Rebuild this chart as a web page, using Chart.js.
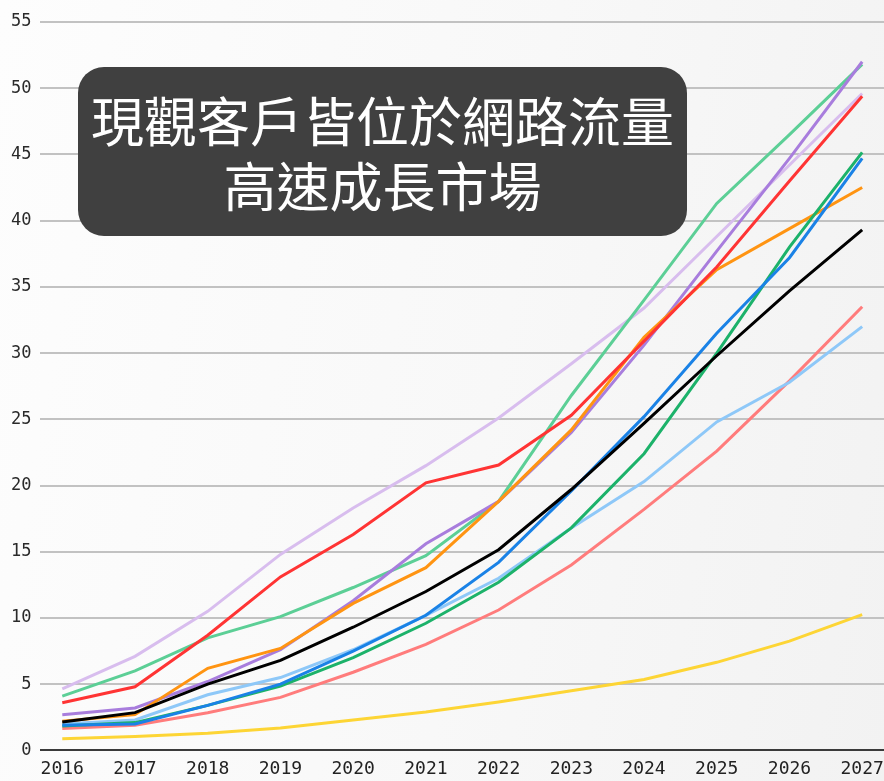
<!DOCTYPE html>
<html>
<head>
<meta charset="utf-8">
<script src="https://cdn.jsdelivr.net/npm/chart.js@4"></script>
<style>
  html, body { margin: 0; padding: 0; }
  body {
    width: 884px;
    height: 781px;
    overflow: hidden;
    background: linear-gradient(100deg, #fdfdfd 0%, #f8f8f8 55%, #f2f2f2 100%);
  }
  .wrap { position: relative; width: 884px; height: 781px; }
  canvas { position: absolute; left: 0; top: 0; }
  .banner {
    position: absolute;
    left: 78px;
    top: 67px;
    width: 609px;
    height: 169px;
    border-radius: 26px;
    background: #404040;
    color: #fff;
    font-family: "Noto Sans CJK TC", "Noto Sans CJK SC", sans-serif;
    font-size: 53px;
    line-height: 65px;
    text-align: center;
    display: flex;
    flex-direction: column;
    justify-content: center;
  }
</style>
</head>
<body>
<div class="wrap">
  <canvas id="chart" width="884" height="781"></canvas>
  <div class="banner"><div>現觀客戶皆位於網路流量</div><div>高速成長市場</div></div>
</div>
<script>
  const years = [2016, 2017, 2018, 2019, 2020, 2021, 2022, 2023, 2024, 2025, 2026, 2027];
  const yTicks = [0, 5, 10, 15, 20, 25, 30, 35, 40, 45, 50, 55];

  const blackSeries    = [2.15, 2.85, 5.0, 6.8, 9.3, 12.0, 15.15, 19.7, 24.7, 29.8, 34.7, 39.3];
  const lavenderSeries = [4.65, 7.1, 10.5, 14.8, 18.3, 21.5, 25.1, 29.2, 33.4, 38.8, 44.2, 49.6];
  const mintSeries     = [4.1, 6.0, 8.5, 10.1, 12.3, 14.7, 18.8, 26.8, 34.0, 41.3, 46.5, 51.8];
  const redSeries      = [3.6, 4.8, 8.7, 13.1, 16.3, 20.2, 21.55, 25.3, 30.9, 36.5, 43.0, 49.4];
  const purpleSeries   = [2.7, 3.2, 5.2, 7.6, 11.3, 15.6, 18.8, 24.0, 30.6, 37.7, 44.7, 52.0];
  const orangeSeries   = [2.2, 2.7, 6.2, 7.7, 11.1, 13.8, 18.8, 24.2, 31.2, 36.3, 39.4, 42.5];
  const lightBlueSeries = [2.0, 2.3, 4.2, 5.5, 7.6, 10.2, 13.0, 16.8, 20.3, 24.8, 27.8, 32.0];
  const blueSeries     = [1.9, 2.0, 3.4, 5.0, 7.5, 10.2, 14.2, 19.6, 25.2, 31.5, 37.2, 44.7];
  const greenSeries    = [1.85, 2.1, 3.4, 4.85, 7.0, 9.6, 12.7, 16.8, 22.4, 30.0, 38.0, 45.15];
  const salmonSeries   = [1.65, 1.9, 2.85, 4.0, 5.9, 8.0, 10.6, 14.0, 18.2, 22.6, 27.9, 33.5];
  const yellowSeries   = [0.88, 1.05, 1.3, 1.7, 2.3, 2.9, 3.65, 4.5, 5.35, 6.65, 8.25, 10.25];

  const seriesList = [
    { values: blackSeries, color: '#000000' },
    { values: redSeries, color: '#ff3434' },
    { values: blueSeries, color: '#1a82e6' },
    { values: greenSeries, color: '#1cb26a' },
    { values: orangeSeries, color: '#ff9412' },
    { values: purpleSeries, color: '#a87ddd' },
    { values: mintSeries, color: '#5ccf96' },
    { values: lavenderSeries, color: '#d8bdee' },
    { values: lightBlueSeries, color: '#8ec8f8' },
    { values: salmonSeries, color: '#ff7c7c' },
    { values: yellowSeries, color: '#fdd535' },
  ];

  const datasets = seriesList.map((s) => ({
    data: years.map((yr, i) => ({ x: yr, y: s.values[i] })),
    borderColor: s.color,
    borderWidth: 3,
    pointRadius: 0,
    tension: 0,
    fill: false,
  }));

  new Chart(document.getElementById('chart').getContext('2d'), {
    type: 'line',
    data: { datasets },
    options: {
      responsive: false,
      animation: false,
      // bottom is negative so the year labels sit a bit lower than the axis box allows
      layout: { padding: { left: 2, top: 22, right: 0, bottom: -7 } },
      plugins: { legend: { display: false }, tooltip: { enabled: false } },
      scales: {
        x: {
          type: 'linear',
          min: 2015.7,
          max: 2027.3,
          grid: { display: false, drawTicks: false },
          border: { display: false },
          afterBuildTicks: (axis) => {
            axis.ticks = years.map((v) => ({ value: v }));
          },
          afterFit: (axis) => {
            axis.paddingLeft = 0;
            axis.paddingRight = 0;
          },
          ticks: {
            color: '#222',
            font: { family: '"DejaVu Sans Mono", monospace', size: 18 },
            padding: 8,
            maxRotation: 0,
            autoSkip: false,
            callback: (v) => String(v),
          },
        },
        y: {
          min: 0,
          max: 55,
          border: { display: false },
          afterBuildTicks: (axis) => {
            axis.ticks = yTicks.map((v) => ({ value: v }));
          },
          grid: {
            drawTicks: false,
            lineWidth: 2,
            color: (ctx) => (ctx.tick && ctx.tick.value === 0 ? '#3a3a3a' : '#c2c2c2'),
          },
          ticks: {
            color: '#2a2a2a',
            font: { family: '"DejaVu Sans Mono", monospace', size: 17 },
            padding: 9,
          },
        },
      },
    },
  });
</script>
</body>
</html>
